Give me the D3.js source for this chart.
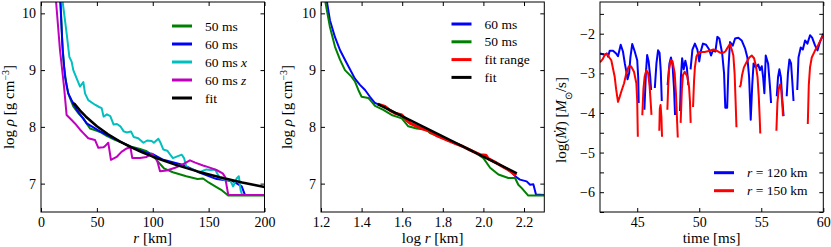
<!DOCTYPE html>
<html><head><meta charset="utf-8">
<script src="https://cdn.jsdelivr.net/npm/d3@7"></script>
<style>
body{margin:0;background:#fff;}
</style>
</head><body>
<svg id="c" width="831" height="247"></svg>
<script>
// ---------- Panel 1: log rho vs r [km] ----------
const rho50 = [[16,10.8],[17.5,10.2],[19,9.5],[20.6,9.06],[23,8.71],[24.4,8.59],[26,8.5],[28.9,8.36],[33.4,8.24],[37.9,8.15],[41.5,8.04],[44,7.97],[50,7.93],[54,7.9],[58.8,7.84],[66,7.77],[75,7.7],[81,7.65],[88.6,7.61],[94.6,7.57],[100,7.5],[104,7.4],[110,7.27],[118,7.2],[130,7.13],[140,7.08],[145,7.09],[150,7.02],[157,6.94],[162,6.88],[167.5,6.79],[200,6.79]];
const rho60 = [[16.5,10.8],[17.3,10.2],[19.4,9.35],[21.5,8.88],[24.4,8.59],[27.4,8.47],[32,8.3],[40.9,8.06],[52.8,7.92],[64.7,7.8],[79.6,7.65],[94.6,7.54],[100,7.52],[109.4,7.42],[127.3,7.33],[142.3,7.19],[157.2,7.08],[172,7.04],[179.6,6.95],[182.5,6.8],[200,6.8]];
const rho60x = [[17.5,10.8],[19.4,10.2],[23,9.64],[25.4,9.23],[27.4,9.15],[28.9,9.0],[32,8.85],[34.9,8.71],[37.9,8.79],[39.4,8.59],[42.3,8.47],[48.3,8.39],[52,8.35],[54.3,8.33],[56,8.18],[59,8.22],[62,8.19],[65,8.04],[68,8.05],[71,8.01],[74,7.92],[77,7.9],[80.5,7.92],[83,7.82],[87,7.8],[91.6,7.72],[95,7.76],[99,7.75],[101,7.72],[105,7.79],[107,7.72],[109.5,7.6],[113,7.58],[116,7.5],[118,7.45],[122,7.48],[126,7.51],[128,7.45],[130,7.3],[133,7.26],[136,7.25],[142,7.2],[148,7.25],[152,7.24],[155.7,7.25],[160,7.1],[165,7.06],[169,7.07],[172,6.95],[175,7.09],[177,7.13],[178.6,6.89],[180,6.8],[200,6.8]];
const rho60z = [[12,10.8],[13.5,10.2],[17,9.35],[20.6,8.71],[22.9,8.21],[27.4,8.12],[30.4,8.06],[35,7.95],[37.9,7.89],[42.3,7.8],[48.3,7.77],[51.3,7.63],[55.8,7.64],[57.3,7.66],[60.2,7.72],[62.6,7.42],[67.7,7.47],[72,7.56],[76.7,7.62],[80,7.64],[81.7,7.45],[88.6,7.45],[94.5,7.47],[99,7.53],[103.5,7.44],[106.5,7.22],[112.5,7.23],[120,7.28],[126,7.33],[133.3,7.41],[138,7.37],[145,7.32],[149.7,7.29],[157,7.24],[162.6,7.18],[164.7,7.12],[167.6,6.8],[200,6.8]];
const rhoFit = [[28.5,8.42],[30,8.405],[35,8.286],[40,8.183],[50,8.01],[60,7.87],[70,7.75],[80,7.647],[90,7.556],[100,7.474],[120,7.334],[140,7.215],[160,7.111],[180,7.02],[200,6.939]];
const p1XTicks = [0,50,100,150,200];
const rhoYTicks = [7,8,9,10];
const p1Legend = ["50 ms","60 ms","60 ms x","60 ms z","fit"];

// ---------- Panel 2: log rho vs log r ----------
const lrho60 = [[1.215,10.6],[1.228,10.23],[1.244,9.88],[1.269,9.58],[1.294,9.35],[1.327,9.12],[1.367,8.85],[1.392,8.74],[1.417,8.65],[1.441,8.53],[1.466,8.42],[1.48,8.4],[1.515,8.36],[1.54,8.29],[1.565,8.24],[1.598,8.21],[1.62,8.12],[1.64,8.06],[1.69,7.98],[1.737,7.92],[1.773,7.84],[1.819,7.77],[1.86,7.71],[1.901,7.65],[1.94,7.58],[1.983,7.51],[2.012,7.5],[2.024,7.44],[2.066,7.36],[2.115,7.26],[2.14,7.2],[2.16,7.12],[2.18,7.07],[2.213,7.04],[2.23,6.98],[2.246,6.99],[2.259,6.81],[2.3,6.8]];
const lrho50 = [[1.21,10.6],[1.22,10.23],[1.244,9.76],[1.269,9.41],[1.294,9.18],[1.318,9.0],[1.351,8.88],[1.367,8.8],[1.384,8.65],[1.4,8.53],[1.433,8.51],[1.45,8.44],[1.466,8.37],[1.507,8.3],[1.548,8.21],[1.598,8.15],[1.63,8.01],[1.671,7.97],[1.721,7.95],[1.737,7.89],[1.802,7.8],[1.885,7.68],[1.95,7.57],[2.0,7.45],[2.033,7.28],[2.074,7.16],[2.123,7.1],[2.156,7.1],[2.172,6.98],[2.189,6.92],[2.221,6.79],[2.3,6.79]];
const lrhoRange = [[1.48,8.4],[1.515,8.36],[1.54,8.29],[1.565,8.24],[1.598,8.21],[1.62,8.12],[1.64,8.06],[1.69,7.98],[1.737,7.92],[1.773,7.84],[1.819,7.77],[1.86,7.71],[1.901,7.65],[1.94,7.58],[1.983,7.51],[2.012,7.5],[2.024,7.44],[2.066,7.36],[2.115,7.26],[2.14,7.2],[2.16,7.14]];
const lrhoFit = [[1.48,8.4],[2.165,7.18]];
const p2XTicks = [1.2,1.4,1.6,1.8,2.0,2.2];
const p2Legend = ["60 ms","50 ms","fit range","fit"];

// ---------- Panel 3: log Mdot vs time ----------
const mdot120 = [[42.0,-2.5],[42.38,-2.53],[42.55,-2.5],[42.65,-2.58],[42.78,-2.43],[43.05,-2.43],[43.3,-2.5],[43.45,-2.57],[43.67,-2.28],[43.85,-2.45],[44.0,-2.75],[44.12,-2.95],[44.22,-3.15],[44.35,-3.0],[44.45,-2.6],[44.6,-2.26],[44.8,-2.45],[45.0,-2.67],[45.08,-3.1],[45.12,-3.75],null,
[45.58,-3.92],[45.7,-3.0],[45.8,-2.54],[45.92,-2.7],[46.05,-3.1],[46.12,-3.42],null,
[46.42,-3.37],[46.55,-2.75],[46.68,-2.42],[46.8,-2.48],[46.9,-2.95],[46.98,-3.7],null,
[47.45,-3.3],[47.6,-2.75],[47.72,-2.6],[47.85,-2.8],[47.97,-3.4],[48.05,-4.05],null,
[48.45,-3.95],[48.52,-3.1],[48.62,-2.62],[48.75,-2.9],[48.88,-2.68],[49.0,-2.85],[49.12,-3.3],null,
[49.3,-2.9],[49.45,-2.4],[49.65,-2.25],[49.85,-2.4],[50.0,-2.7],[50.12,-2.45],[50.3,-2.25],[50.55,-2.28],[50.8,-2.4],[50.95,-2.55],[51.1,-2.42],[51.3,-2.45],[51.46,-2.08],[51.62,-2.12],[51.85,-2.5],[52.0,-3.0],[52.1,-3.87],[52.25,-3.87],[52.35,-2.9],[52.48,-2.21],[52.7,-2.3],[52.89,-2.12],[53.15,-2.1],[53.42,-2.17],[53.69,-2.37],[53.88,-2.6],[54.02,-3.1],[54.15,-4.17],[54.27,-3.3],[54.38,-2.75],[54.55,-2.85],[54.75,-2.78],[54.9,-2.92],[55.04,-2.82],[55.15,-3.1],[55.25,-3.5],[55.36,-2.55],[55.55,-2.75],[55.7,-3.33],[55.79,-3.75],null,
[56.25,-3.58],[56.35,-3.1],[56.46,-2.9],[56.58,-3.1],[56.7,-3.7],[56.8,-4.08],null,
[57.05,-3.58],[57.15,-3.0],[57.27,-2.65],[57.4,-2.75],[57.5,-3.2],[57.6,-3.7],null,
[57.9,-3.42],[58.0,-2.6],[58.18,-2.35],[58.35,-2.4],[58.53,-2.17],[58.72,-2.25],[58.93,-2.04],[59.1,-2.1],[59.34,-2.3],[59.53,-2.42],[59.74,-2.2],[60.0,-2.0]];
const mdot150 = [[42.0,-2.72],[42.2,-2.65],[42.38,-2.54],[42.55,-2.5],[42.75,-2.6],[42.91,-2.67],[43.18,-3.08],[43.3,-3.4],[43.45,-3.72],[43.58,-3.6],[43.72,-3.46],[43.94,-3.25],[44.12,-3.0],[44.31,-2.83],[44.5,-2.82],[44.74,-2.96],[44.93,-3.25],[45.0,-3.7],[45.05,-4.6],null,
[45.41,-4.06],[45.5,-3.4],[45.6,-3.08],[45.74,-2.92],[45.88,-3.0],[46.0,-3.33],[46.08,-3.7],[46.15,-4.05],null,
[46.78,-4.45],[46.82,-3.9],[46.88,-3.8],[46.95,-4.1],[47.0,-4.6],null,
[47.43,-3.92],[47.5,-3.3],[47.56,-2.92],[47.7,-2.67],[47.85,-2.7],[48.02,-3.0],[48.12,-3.5],[48.2,-4.1],[48.27,-4.62],null,
[48.5,-4.25],[48.6,-3.4],[48.69,-3.04],[48.83,-2.96],[49.04,-3.08],[49.18,-3.35],[49.25,-3.7],[49.31,-4.25],null,
[49.5,-3.85],[49.58,-3.2],[49.65,-2.85],[49.77,-2.58],[49.9,-2.5],[50.04,-2.46],[50.44,-2.46],[50.84,-2.43],[51.14,-2.4],[51.4,-2.43],[51.68,-2.48],[51.95,-2.48],[52.1,-2.45],[52.35,-2.32],[52.48,-2.26],[52.62,-2.4],[52.75,-2.55],[52.85,-3.0],[52.93,-3.7],[53.0,-4.36],null,
[53.24,-3.35],[53.34,-3.3],[53.45,-3.05],[53.6,-2.85],[53.83,-2.71],[54.04,-2.6],[54.23,-2.55],[54.42,-2.62],[54.58,-2.83],[54.7,-3.1],[54.8,-3.6],[54.87,-4.1],[54.92,-4.52],null,
[56.22,-4.45],[56.3,-3.75],[56.4,-3.4],[56.52,-3.28],[56.62,-3.45],[56.7,-3.8],[56.75,-4.08],null,
[58.75,-4.28],[58.83,-3.3],[58.93,-2.85],[59.07,-2.6],[59.34,-2.42],[59.61,-2.27],[59.88,-2.1],[60.0,-2.04]];
const p3XTicks = [45,50,55,60];
const p3YTicks = [-6.5,-6,-5.5,-5,-4.5,-4,-3.5,-3,-2.5,-2,-1.5];
const p3Legend = ["120","150"];

const FONT = '"Liberation Serif"';
const COL = {g:"#008000", b:"#0000ff", c:"#00bfbf", m:"#bf00bf", k:"#000000", r:"#ff0000"};
const svg = d3.select("#c");

function panel(o){
  const g = svg.append("g");
  const x = d3.scaleLinear().domain(o.xd).range(o.xr);
  const y = d3.scaleLinear().domain(o.yd).range([212,2]);
  const id = "clip"+o.id;
  svg.append("clipPath").attr("id",id).append("rect")
    .attr("x",o.xr[0]).attr("y",2).attr("width",o.xr[1]-o.xr[0]).attr("height",210);
  const line = d3.line().defined(d=>d!==null).x(d=>x(d[0])).y(d=>y(d[1]));
  const lines = g.append("g").attr("clip-path",`url(#${id})`);
  o.series.forEach(s=>{
    lines.append("path").datum(s.data).attr("d",line).attr("fill","none")
      .attr("stroke",s.color).attr("stroke-width",s.w||2).attr("stroke-linejoin","round");
  });
  const fmtX = o.fmtX || d3.format("d");
  const fmtY = o.fmtY || d3.format("d");
  const ax = (axis, tr)=>{
    const a = g.append("g").attr("transform",tr).call(axis);
    a.select(".domain").remove();
    a.selectAll("line").attr("stroke","#000");
    a.selectAll("text").style("font-family",FONT).style("font-size","14px").attr("fill","#000");
    return a;
  };
  ax(d3.axisBottom(x).tickValues(o.xt).tickSize(-4).tickPadding(5).tickFormat(fmtX),"translate(0,212)");
  ax(d3.axisTop(x).tickValues(o.xt).tickSize(-4).tickFormat(""),"translate(0,2)");
  ax(d3.axisLeft(y).tickValues(o.yt).tickSize(-4).tickPadding(5).tickFormat(fmtY),`translate(${o.xr[0]},0)`);
  ax(d3.axisRight(y).tickValues(o.yt).tickSize(-4).tickFormat(""),`translate(${o.xr[1]},0)`);
  g.append("rect").attr("x",o.xr[0]).attr("y",2).attr("width",o.xr[1]-o.xr[0]).attr("height",210)
    .attr("fill","none").attr("stroke","#000").attr("stroke-width",1);
  // legend
  const lg = g.append("g");
  o.legend.forEach((it,i)=>{
    const yy = o.leg.y + i*o.leg.dy;
    lg.append("line").attr("x1",o.leg.x).attr("x2",o.leg.x+20).attr("y1",yy).attr("y2",yy)
      .attr("stroke",it.color).attr("stroke-width",3);
    const t = lg.append("text").attr("x",o.leg.x+33).attr("y",yy+4.5)
      .style("font-family",FONT).style("font-size","13.5px");
    it.parts.forEach(p=>t.append("tspan").style("font-style",p[1]?"italic":null).text(p[0]));
  });
  // axis labels
  const addParts = (t, parts)=>parts.forEach(p=>{
    const s = t.append("tspan").style("font-style",p[1]?"italic":null).text(p[0]);
    if(p[2]) s.attr("baseline-shift",p[2]).style("font-size","10px");
  });
  const xl = g.append("text").attr("x",(o.xr[0]+o.xr[1])/2).attr("y",243).attr("text-anchor","middle")
    .style("font-family",FONT).style("font-size","15px");
  addParts(xl, o.xlabel);
  const yl = g.append("text").attr("transform",`translate(${o.ylx},${o.yly}) rotate(-90)`).attr("text-anchor","middle")
    .style("font-family",FONT).style("font-size","15px");
  addParts(yl, o.ylabel);
}

panel({id:1, xd:[0,200], xr:[41,264.5], yd:[6.5,10.2], xt:p1XTicks, yt:rhoYTicks,
  series:[{data:rho50,color:COL.g},{data:rho60,color:COL.b},{data:rho60x,color:COL.c},{data:rho60z,color:COL.m},{data:rhoFit,color:COL.k,w:2.5}],
  leg:{x:172,y:26,dy:18},
  legend:[
    {color:COL.g,parts:[[p1Legend[0]]]},
    {color:COL.b,parts:[[p1Legend[1]]]},
    {color:COL.c,parts:[[p1Legend[2].slice(0,6)],[p1Legend[2].slice(6),true]]},
    {color:COL.m,parts:[[p1Legend[3].slice(0,6)],[p1Legend[3].slice(6),true]]},
    {color:COL.k,parts:[[p1Legend[4]]]}],
  xlabel:[["r",true],[" [km]"]], ylx:14, yly:107,
  ylabel:[["log "],["ρ",true],[" [g cm"],["−3",false,"super"],["]"]]
});

panel({id:2, xd:[1.2,2.3], xr:[321,544.3], yd:[6.5,10.2], xt:p2XTicks, yt:rhoYTicks, fmtX:d3.format(".1f"),
  series:[{data:lrho60,color:COL.b},{data:lrho50,color:COL.g},{data:lrhoRange,color:COL.r,w:3},{data:lrhoFit,color:COL.k,w:2.5}],
  leg:{x:451.5,y:24,dy:17.8},
  legend:[
    {color:COL.b,parts:[[p2Legend[0]]]},
    {color:COL.g,parts:[[p2Legend[1]]]},
    {color:COL.r,parts:[[p2Legend[2]]]},
    {color:COL.k,parts:[[p2Legend[3]]]}],
  xlabel:[["log "],["r",true],[" [km]"]], ylx:292, yly:107,
  ylabel:[["log "],["ρ",true],[" [g cm"],["−3",false,"super"],["]"]]
});

panel({id:3, xd:[42,60], xr:[600,823.3], yd:[-6.5,-1.2], xt:p3XTicks, yt:p3YTicks,
  fmtY:d=>Number.isInteger(d)?d3.format("d")(d):"",
  series:[{data:mdot120,color:COL.b},{data:mdot150,color:COL.r}],
  leg:{x:714,y:172.7,dy:18},
  legend:[
    {color:COL.b,parts:[["r",true],[" = "+p3Legend[0]+" km"]]},
    {color:COL.r,parts:[["r",true],[" = "+p3Legend[1]+" km"]]}],
  xlabel:[["time [ms]"]], ylx:566, yly:120,
  ylabel:[["log("],["Ṁ",true],[") ["],["M",true],["⊙",false,"sub"],["/s]"]]
});
</script>
</body></html>
